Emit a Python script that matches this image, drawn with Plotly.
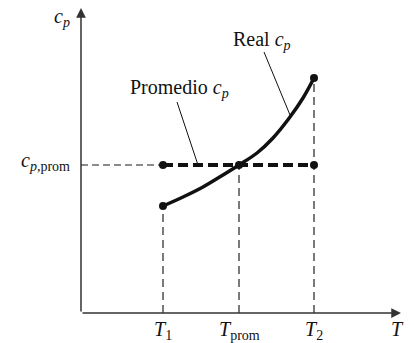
import plotly.graph_objects as go

# Conceptual values (T and cp in arbitrary units from origin)
T_ticks = [82, 158, 233]            # T1, Tprom, T2
T_labels = ["<i>T</i><sub>1</sub>", "<i>T</i><sub>prom</sub>", "<i>T</i><sub>2</sub>"]
cp_prom = 148
curve_T = [82, 102, 122, 142, 158, 176, 192, 209, 222, 233]
curve_cp = [107, 116, 126, 138, 148, 160, 175, 196, 215, 235]
T_axis_max = 320
cp_axis_max = 305

FONT = "Liberation Serif"
AX = "#333333"

fig = go.Figure()

# thin gray dashed from axis to T1 at cp_prom
fig.add_trace(go.Scatter(x=[0, T_ticks[0]], y=[cp_prom, cp_prom], mode="lines",
                         line=dict(color="#666666", width=1.3, dash="7px,4px"),
                         hoverinfo="skip"))
# vertical dashed lines
fig.add_trace(go.Scatter(x=[T_ticks[0], T_ticks[0]], y=[0, curve_cp[0]], mode="lines",
                         line=dict(color="#222222", width=1.2, dash="8px,5px"), hoverinfo="skip"))
fig.add_trace(go.Scatter(x=[T_ticks[1], T_ticks[1]], y=[0, cp_prom], mode="lines",
                         line=dict(color="#222222", width=1.2, dash="8px,5px"), hoverinfo="skip"))
fig.add_trace(go.Scatter(x=[T_ticks[2], T_ticks[2]], y=[0, curve_cp[-1]], mode="lines",
                         line=dict(color="#222222", width=1.2, dash="8px,5px"), hoverinfo="skip"))
# thick dashed average line
fig.add_trace(go.Scatter(x=[T_ticks[0], T_ticks[2]], y=[cp_prom, cp_prom], mode="lines",
                         line=dict(color="#111111", width=4, dash="10px,5px"), hoverinfo="skip"))
# real cp curve
fig.add_trace(go.Scatter(x=curve_T, y=curve_cp, mode="lines", line_shape="spline",
                         line=dict(color="#111111", width=3.5), hoverinfo="skip"))
# dots
fig.add_trace(go.Scatter(x=[T_ticks[0], T_ticks[1], T_ticks[2], T_ticks[0], T_ticks[2]],
                         y=[cp_prom, cp_prom, cp_prom, curve_cp[0], curve_cp[-1]],
                         mode="markers", marker=dict(color="#111111", size=8), hoverinfo="skip"))
# leader lines
fig.add_trace(go.Scatter(x=[183, 209], y=[261, 198], mode="lines",
                         line=dict(color="#111111", width=1), hoverinfo="skip"))
fig.add_trace(go.Scatter(x=[96, 117], y=[211, cp_prom], mode="lines",
                         line=dict(color="#111111", width=1), hoverinfo="skip"))

ann = []
# axes arrows
ann.append(dict(x=0, y=cp_axis_max, ax=0, ay=0, xref="x", yref="y", axref="x", ayref="y",
                showarrow=True, arrowhead=2, arrowsize=1.3, arrowwidth=1.5, arrowcolor=AX, text=""))
ann.append(dict(x=T_axis_max, y=0, ax=0, ay=0, xref="x", yref="y", axref="x", ayref="y",
                showarrow=True, arrowhead=2, arrowsize=1.3, arrowwidth=1.5, arrowcolor=AX, text=""))
f = dict(family=FONT, size=20, color="#111111")
for t, lab in zip(T_ticks, T_labels):
    ann.append(dict(x=t, y=-3, text=lab, showarrow=False, font=f, xanchor="center", yanchor="top"))
ann.append(dict(x=316, y=-3, text="<i>T</i>", showarrow=False, font=f, xanchor="center", yanchor="top"))
ann.append(dict(x=-19, y=296, text="<i>c</i><sub><i>p</i></sub>", showarrow=False, font=f,
                xanchor="center", yanchor="middle"))
ann.append(dict(x=-9, y=152, text="<i>c</i><sub><i>p</i>,prom</sub>", showarrow=False, font=f,
                xanchor="right", yanchor="middle"))
ann.append(dict(x=181, y=273, text="Real <i>c</i><sub><i>p</i></sub>", showarrow=False, font=f,
                xanchor="center", yanchor="middle"))
ann.append(dict(x=98, y=225, text="Promedio <i>c</i><sub><i>p</i></sub>", showarrow=False, font=f,
                xanchor="center", yanchor="middle"))

fig.update_layout(
    width=414, height=343, autosize=False,
    margin=dict(l=0, r=0, t=0, b=0),
    paper_bgcolor="white", plot_bgcolor="white",
    showlegend=False,
    xaxis=dict(range=[-81, 333], visible=False, fixedrange=True),
    yaxis=dict(range=[-30, 313], visible=False, fixedrange=True),
    annotations=ann,
)

fig.write_html("out.html", config={"displayModeBar": False, "staticPlot": True},
               post_script="document.body.style.margin='0';document.body.style.overflow='hidden';")
